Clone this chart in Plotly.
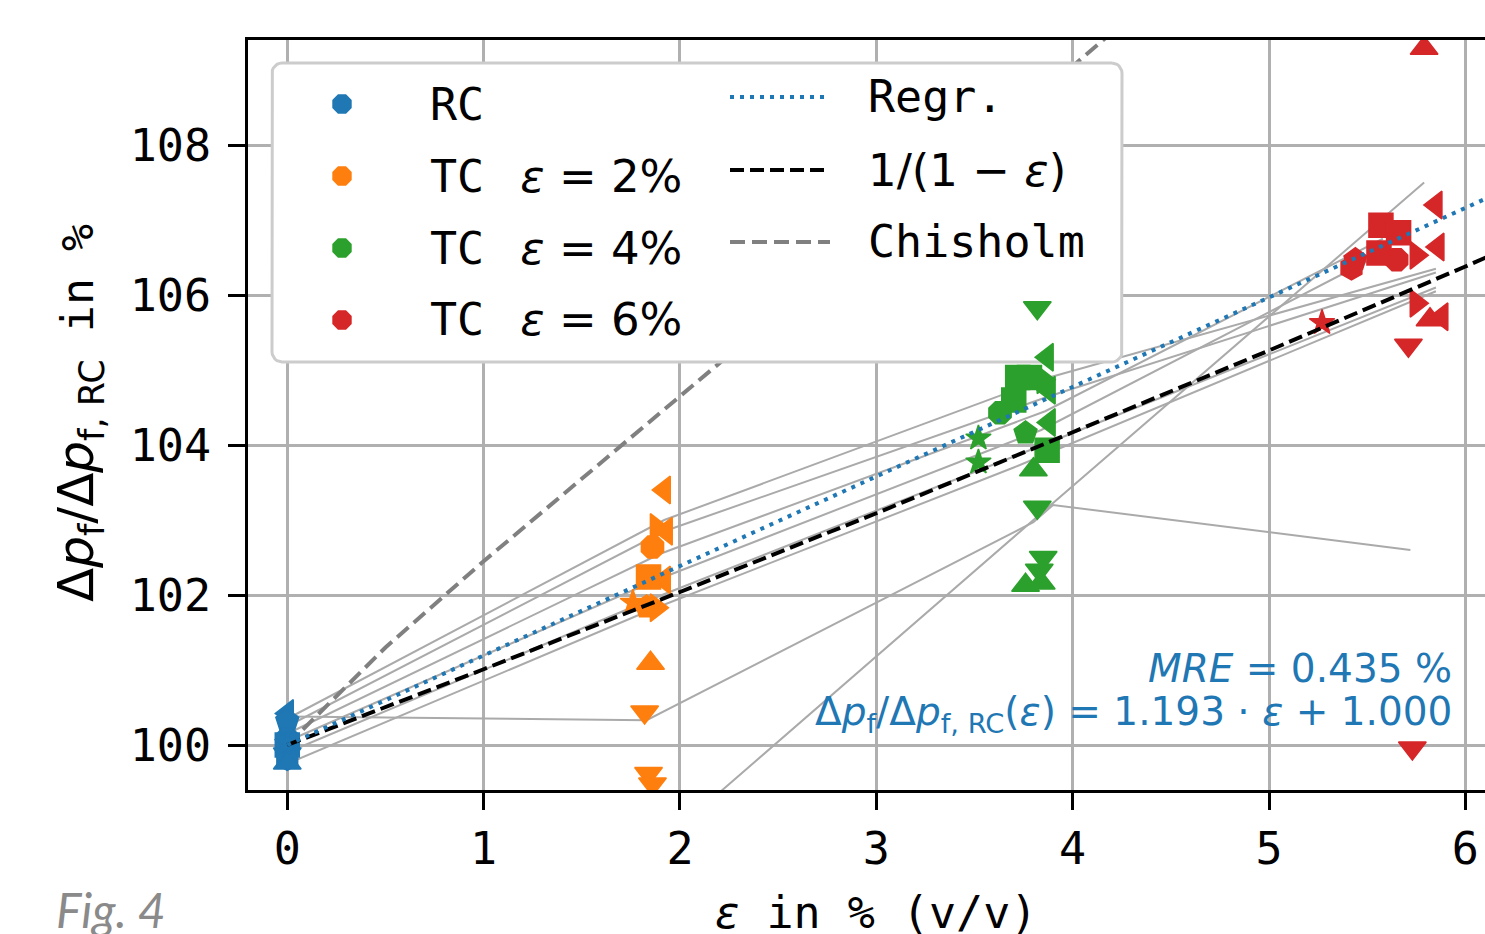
import math
import plotly.graph_objects as go

# ---------------- data ----------------
rc_x = [0, 0, 0, 0, 0, 0, 0, 0, 0]
rc_y = [100.42, 100.32, 100.08, 100.0, 99.95, 99.88, 99.82, 99.76, 100.02]
rc_sym = ['triangle-left', 'pentagon', 'octagon', 'square', 'triangle-right',
          'triangle-down', 'hexagon', 'triangle-up', 'star']

tc2_x = [1.92, 1.88, 1.93, 1.86, 1.84, 1.92, 1.76, 1.83, 1.88, 1.85, 1.82, 1.84, 1.86]
tc2_y = [103.4, 102.9, 102.85, 102.64, 102.24, 102.2, 101.9, 101.84, 101.83,
         101.09, 100.44, 99.62, 99.48]
tc2_sym = ['triangle-left', 'triangle-right', 'triangle-left', 'octagon', 'square',
           'triangle-left', 'star', 'pentagon', 'triangle-right', 'triangle-up',
           'triangle-down', 'triangle-down', 'triangle-down']

tc4_x = [3.82, 3.87, 3.72, 3.78, 3.85, 3.70, 3.88, 3.63, 3.76, 3.88, 3.87, 3.80,
         3.52, 3.52, 3.82, 3.85, 3.83, 3.76, 3.84]
tc4_y = [105.83, 105.17, 104.9, 104.9, 104.87, 104.6, 104.73, 104.43, 104.16, 104.3,
         103.93, 103.67, 104.09, 103.77, 103.17, 102.5, 102.33, 102.13, 102.16]
tc4_sym = ['triangle-down', 'triangle-left', 'square', 'square', 'triangle-right',
           'square', 'triangle-left', 'octagon', 'pentagon', 'triangle-left', 'square',
           'triangle-up', 'star', 'star', 'triangle-down', 'triangle-down',
           'triangle-down', 'triangle-up', 'triangle-up']

tc6_x = [5.79, 5.85, 5.57, 5.66, 5.44, 5.42, 5.56, 5.65, 5.75, 5.86, 5.75, 5.82,
         5.88, 5.27, 5.71, 5.73]
tc6_y = [109.29, 107.2, 106.93, 106.83, 106.47, 106.36, 106.56, 106.47, 106.53,
         106.64, 105.89, 105.67, 105.71, 105.63, 105.33, 99.96]
tc6_sym = ['triangle-up', 'triangle-left', 'square', 'square', 'pentagon', 'hexagon',
           'square', 'octagon', 'triangle-right', 'triangle-left', 'triangle-right',
           'triangle-up', 'triangle-left', 'star', 'triangle-down', 'triangle-down']

# thin grey lines per configuration
gray_lines = [
    ([0, 1.92, 3.88, 5.85], [100.35, 103.0, 104.9, 106.35]),
    ([0, 1.92, 3.88, 5.85], [100.25, 102.85, 104.65, 106.3]),
    ([0, 1.9, 3.86, 5.58], [100.15, 102.55, 104.45, 106.75]),
    ([0, 1.88, 3.84, 5.5], [100.05, 102.2, 104.2, 106.45]),
    ([0, 1.86, 3.8, 5.85], [99.9, 101.95, 103.95, 106.1]),
    ([0, 1.83, 3.8, 3.9, 5.72], [100.38, 100.33, 102.97, 103.2, 102.6]),
    ([1.6, 3.8, 5.79], [98.0, 103.0, 107.5]),
    ([0, 1.85, 3.7, 5.85], [99.75, 101.8, 103.7, 106.05]),
]

# model lines
regr_x = [0, 6.2]
regr_y = [100.0, 107.40]
inv_x = [0, 1, 2, 3, 4, 5, 6, 6.2]
inv_y = [100.0, 101.01, 102.04, 103.09, 104.17, 105.26, 106.38, 106.61]
chis_x = [0, 0.5, 1, 2, 3, 4, 4.4]
chis_y = [100.0, 101.3, 102.45, 104.65, 106.85, 109.05, 109.95]

colors = ['#1f77b4', '#ff7f0e', '#2ca02c', '#d62728']

# ---------------- layout helpers ----------------
W, H = 1485, 934
SL, ST, SR, SB = 248, 40, 1485, 790     # plot area on screen
ML = SL
MT = ST
PW = SR - SL
PH = SB - ST
MR = W - ML - PW
MB = H - MT - PH
XR = [-0.2, 6.1]
YR = [99.4, 109.4]

def px_x(p):
    return (p - SL) / PW

def px_y(p):
    return (SB - p) / PH

def dx(p):
    return XR[0] + px_x(p) * (XR[1] - XR[0])

def dy(p):
    return YR[0] + px_y(p) * (YR[1] - YR[0])

MONO = 'DejaVu Sans Mono'
SANS = 'DejaVu Sans'
DASH_BLACK = '14px,6px'
DASH_GRAY = '15px,7px'
DOT_BLUE = '4px,6px'

fig = go.Figure()

for gx, gy in gray_lines:
    fig.add_trace(go.Scatter(x=gx, y=gy, mode='lines',
                             line=dict(color='#aaaaaa', width=2),
                             showlegend=False, hoverinfo='skip'))

fig.add_trace(go.Scatter(x=chis_x, y=chis_y, mode='lines',
                         line=dict(color='#808080', width=4, dash=DASH_GRAY),
                         showlegend=False))

# legend frame (rounded rectangle) drawn between lines and markers
bx0, bx1, by0, by1, rad = 272, 1122, 63, 362, 10
corners = [(bx1 - rad, by0 + rad, -90), (bx1 - rad, by1 - rad, 0),
           (bx0 + rad, by1 - rad, 90), (bx0 + rad, by0 + rad, 180)]
fx, fy = [], []
for cx, cy, a0 in corners:
    for k in range(7):
        a = math.radians(a0 + k * 15)
        fx.append(dx(cx + rad * math.cos(a)))
        fy.append(dy(cy + rad * math.sin(a)))
fx.append(fx[0])
fy.append(fy[0])
fig.add_trace(go.Scatter(x=fx, y=fy, mode='lines', fill='toself',
                         fillcolor='white', line=dict(color='#cccccc', width=3),
                         showlegend=False, hoverinfo='skip'))

for xs, ys, syms, c in [(rc_x, rc_y, rc_sym, colors[0]),
                        (tc2_x, tc2_y, tc2_sym, colors[1]),
                        (tc4_x, tc4_y, tc4_sym, colors[2]),
                        (tc6_x, tc6_y, tc6_sym, colors[3])]:
    sizes = [19 if s == 'star' else 24 for s in syms]
    fig.add_trace(go.Scatter(x=xs, y=ys, mode='markers',
                             marker=dict(symbol=syms, size=sizes, color=c, opacity=1,
                                         line=dict(color=c, width=1.5)),
                             showlegend=False))

fig.add_trace(go.Scatter(x=inv_x, y=inv_y, mode='lines',
                         line=dict(color='black', width=4, dash=DASH_BLACK),
                         showlegend=False))
fig.add_trace(go.Scatter(x=regr_x, y=regr_y, mode='lines',
                         line=dict(color=colors[0], width=4, dash=DOT_BLUE),
                         showlegend=False))

# legend markers
leg_rows1 = [104, 176, 248, 320]
fig.add_trace(go.Scatter(x=[dx(342)] * 4, y=[dy(r) for r in leg_rows1],
                         mode='markers',
                         marker=dict(symbol='octagon', size=21, color=colors, opacity=1,
                                     line=dict(width=0)),
                         showlegend=False, hoverinfo='skip'))

# legend line samples
leg_rows2 = [97, 170, 242]
line_styles = [(colors[0], DOT_BLUE), ('black', DASH_BLACK), ('#808080', DASH_GRAY)]
for r, (c, d) in zip(leg_rows2, line_styles):
    fig.add_trace(go.Scatter(x=[dx(730), dx(830)], y=[dy(r), dy(r)], mode='lines',
                             line=dict(color=c, width=4, dash=d),
                             showlegend=False, hoverinfo='skip'))

fig.update_layout(
    width=W, height=H,
    margin=dict(l=ML, r=MR, t=MT, b=MB, autoexpand=False),
    plot_bgcolor='white', paper_bgcolor='white',
    showlegend=False,
    font=dict(family=MONO, size=45, color='black'),
    xaxis=dict(range=XR, tickvals=[0, 1, 2, 3, 4, 5, 6], automargin=False,
               showgrid=True, gridcolor='#b0b0b0', gridwidth=3,
               showline=True, linecolor='black', linewidth=3, mirror=True,
               ticks='outside', ticklen=17, tickwidth=3, tickcolor='black',
               zeroline=False, tickfont=dict(family=MONO, size=45)),
    yaxis=dict(range=YR, tickvals=[100, 102, 104, 106, 108], automargin=False,
               showgrid=True, gridcolor='#b0b0b0', gridwidth=3,
               showline=True, linecolor='black', linewidth=3,
               ticks='outside', ticklen=17, tickwidth=3, tickcolor='black',
               ticklabelstandoff=8,
               zeroline=False, tickfont=dict(family=MONO, size=45)),
)

# legend texts
def mono(s, size=None):
    extra = f';font-size:{size}px' if size else ''
    return f'<span style="font-family:{MONO}{extra}">{s}</span>'

col1 = [mono('RC'),
        mono('TC\u00a0') + '\u2009<i>ε</i> = 2%',
        mono('TC\u00a0') + '\u2009<i>ε</i> = 4%',
        mono('TC\u00a0') + '\u2009<i>ε</i> = 6%']
for r, t in zip(leg_rows1, col1):
    fig.add_annotation(x=px_x(428), y=px_y(r), xref='paper', yref='paper',
                       text=t, showarrow=False, xanchor='left', yanchor='middle',
                       font=dict(family=SANS, size=45, color='black'))
col2 = [mono('Regr.'), '1/(1 − <i>ε</i>)', mono('Chisholm')]
for r, t in zip(leg_rows2, col2):
    fig.add_annotation(x=px_x(866), y=px_y(r), xref='paper', yref='paper',
                       text=t, showarrow=False, xanchor='left', yanchor='middle',
                       font=dict(family=SANS, size=45, color='black'))

# regression annotation
fig.add_annotation(x=px_x(1454), y=px_y(668), xref='paper', yref='paper',
                   text='<i>MRE</i> = 0.435 %', showarrow=False,
                   xanchor='right', yanchor='middle',
                   font=dict(family=SANS, size=39, color=colors[0]))
fig.add_annotation(x=px_x(1454), y=px_y(714), xref='paper', yref='paper',
                   text='Δ<i>p</i><sub>f</sub>/Δ<i>p</i><sub>f, RC</sub>(<i>ε</i>) = 1.193 · <i>ε</i> + 1.000',
                   showarrow=False, xanchor='right', yanchor='middle',
                   font=dict(family=SANS, size=39, color=colors[0]))

# axis titles
fig.add_annotation(x=px_x(876), y=px_y(912), xref='paper', yref='paper',
                   text='<i>ε</i>' + mono('\u00a0in\u00a0%\u00a0(v/v)'),
                   showarrow=False, xanchor='center', yanchor='middle',
                   font=dict(family=SANS, size=45, color='black'))
fig.add_annotation(x=px_x(80), y=px_y(413), xref='paper', yref='paper',
                   text='Δ<i>p</i><sub>f</sub>/Δ<i>p</i><sub>f, RC</sub>' + mono('\u00a0in\u00a0%', 45),
                   textangle=-90, showarrow=False, xanchor='center', yanchor='middle',
                   font=dict(family=SANS, size=50, color='black'))

# figure tag
fig.add_annotation(x=px_x(54), y=px_y(910), xref='paper', yref='paper',
                   text='<i>Fig. 4</i>', showarrow=False,
                   xanchor='left', yanchor='middle',
                   font=dict(family='Lato', size=48, color='#8a8a8a'))

fig.write_html('out.html',
               config={'displayModeBar': False},
               post_script="document.body.style.margin='0';"
                           "document.body.style.overflow='hidden';")
